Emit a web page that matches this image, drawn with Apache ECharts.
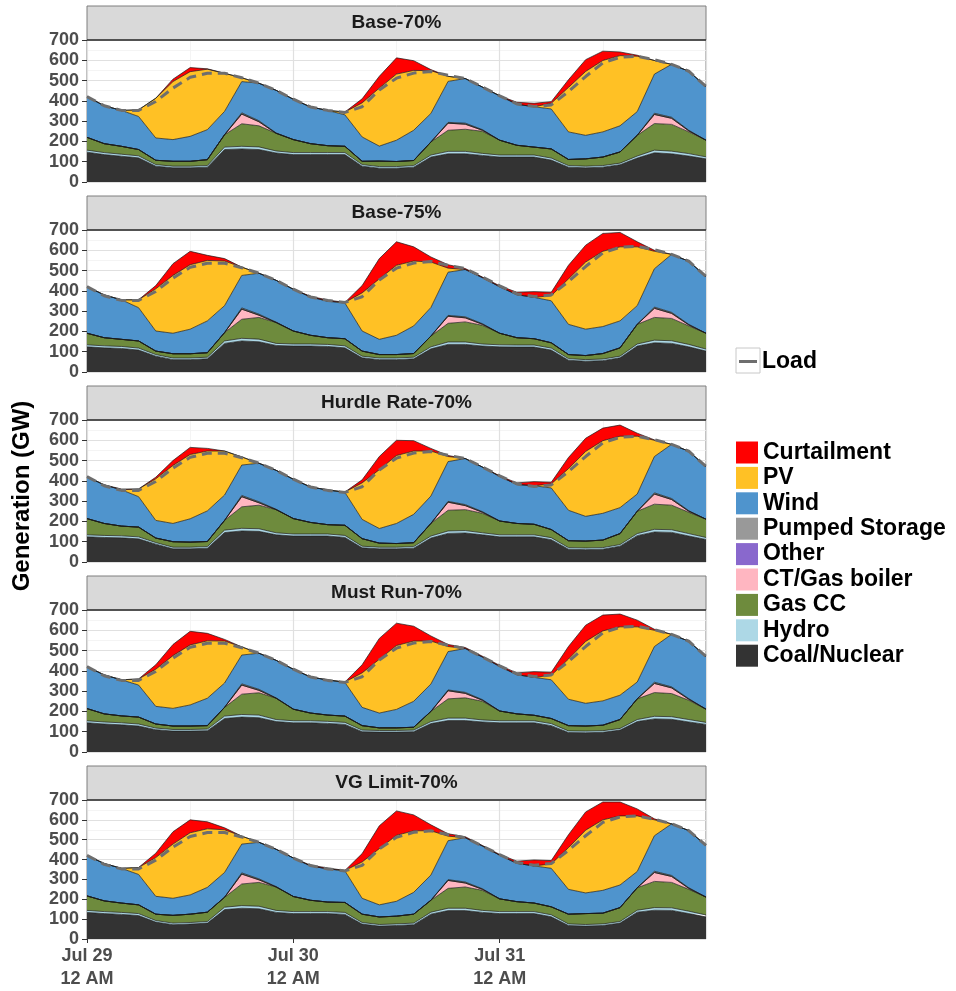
<!DOCTYPE html>
<html><head><meta charset="utf-8">
<script src="https://cdn.jsdelivr.net/npm/echarts@6.0.0/dist/echarts.min.js"></script>
<style>html,body{margin:0;padding:0;background:#fff}#c{width:956px;height:991px}</style>
</head><body><div id="c"></div>
<script>
const hours = [0,2,4,6,8,10,12,14,16,18,20,22,24,26,28,30,32,34,36,38,40,42,44,46,48,50,52,54,56,58,60,62,64,66,68,70,72];
const xTickLabels = {0: 'Jul 29\n12 AM', 24: 'Jul 30\n12 AM', 48: 'Jul 31\n12 AM'};
const panelNames = ['Base-70%', 'Base-75%', 'Hurdle Rate-70%', 'Must Run-70%', 'VG Limit-70%'];

const load = [421,376,353,353,397,463,516,536,536,514,487,452,408,370,353,343,371,454,512,537,545,526,510,468,425,385,372,380,446,520,587,615,620,603,580,546,471];
const hydro = [10,10,10,10,8,8,8,8,12,13,13,10,10,10,10,10,8,8,8,8,10,12,12,10,10,10,10,10,8,8,8,8,10,13,13,12,10];
const pumpedStorage = [0,0,0,0,0,0,0,0,0,6,5,2,0,0,0,0,0,0,0,0,0,4,5,3,0,0,0,0,0,0,0,0,0,6,5,3,0];
const other = [0,0,0,0,0,0,0,0,0,0,0,0,0,0,0,0,0,0,0,0,0,0,0,0,0,0,0,0,0,0,0,0,0,0,0,0,0];

const coal_base70 = [147,135,127,119,78,70,70,73,160,163,160,143,135,135,135,135,78,68,68,73,123,139,139,131,123,123,123,108,73,70,73,85,118,144,139,128,114];
const gas_base70 = [63,44,39,31,21,24,24,29,61,111,104,87,64,44,34,31,16,27,25,25,64,104,109,109,73,48,39,45,30,36,42,55,102,131,132,107,82];
const ct_base70 = [0,0,0,0,0,0,0,0,0,48,20,0,0,0,0,0,0,0,0,0,0,35,25,5,0,0,0,0,0,0,0,0,0,45,30,5,0];
const wind_base70 = [201,187,177,163,110,107,123,148,115,154,185,210,199,181,174,155,120,74,105,149,141,202,220,210,219,202,199,197,136,116,124,129,117,193,261,291,265];
const pv_base70 = [0,0,0,33,196,286,319,298,188,19,0,0,0,0,0,14,168,286,326,295,211,25,0,0,0,0,0,28,219,315,352,346,273,67,0,0,0];
const curt_base70 = [0,0,0,0,0,12,20,2,0,0,0,0,0,0,0,0,20,58,80,48,5,0,0,0,0,10,17,8,38,58,46,18,5,0,0,0,0];

const coal_base75 = [124,119,116,108,78,61,61,65,141,153,149,131,128,128,126,119,70,61,61,65,114,136,136,128,124,123,123,108,58,53,56,70,128,144,141,124,103];
const gas_base75 = [57,40,35,35,17,21,21,22,41,94,107,103,64,43,33,35,25,17,17,18,53,92,99,92,57,36,31,26,20,20,27,41,97,112,110,91,78];
const ct_base75 = [0,0,0,0,0,0,0,0,0,50,11,0,0,0,0,0,0,0,0,0,0,35,20,5,0,0,0,0,0,0,0,0,0,45,25,5,0];
const wind_base75 = [230,211,195,164,99,101,121,157,133,160,202,206,206,189,180,176,99,75,95,136,141,213,233,227,229,212,204,207,149,130,133,133,92,189,286,311,280];
const pv_base75 = [0,0,0,39,208,285,318,298,220,41,0,0,0,0,0,3,188,298,345,320,224,20,0,0,0,0,0,25,224,331,371,365,290,86,0,0,0];
const curt_base75 = [0,0,0,0,16,58,66,25,12,0,0,0,0,3,6,0,36,100,116,70,25,17,5,3,5,12,28,17,67,83,88,71,25,5,0,0,0];

const coal_hurdle = [124,121,119,114,88,65,65,68,145,153,151,134,128,128,128,121,70,65,65,68,118,141,143,134,124,124,124,110,63,61,63,78,130,148,146,128,111];
const gas_hurdle = [80,59,48,48,22,27,25,25,48,106,116,114,76,57,46,50,37,20,18,19,62,102,103,96,68,56,52,40,34,34,37,54,110,124,121,105,90];
const ct_hurdle = [0,0,0,0,0,0,0,0,0,50,12,0,0,0,0,0,0,0,0,0,0,40,20,5,0,0,0,0,0,0,0,0,0,50,28,5,0];
const wind_hurdle = [207,190,179,150,87,90,115,151,125,150,190,192,194,175,171,162,95,72,99,140,135,196,227,220,220,192,190,205,150,122,132,128,85,179,267,293,260];
const pv_hurdle = [0,0,0,38,205,286,317,295,217,40,0,0,0,0,0,2,180,290,335,312,222,25,0,0,0,0,0,20,205,320,358,352,285,80,0,0,0];
const curt_hurdle = [0,0,4,0,8,24,35,13,0,0,0,0,0,0,0,0,15,65,75,51,13,5,0,0,3,8,20,8,55,65,62,55,15,2,0,0,0];

const coal_mustrun = [144,138,134,128,110,103,103,105,165,172,169,150,144,144,141,136,100,98,98,100,140,155,155,148,144,144,144,130,96,95,97,108,150,163,161,148,136];
const gas_mustrun = [60,40,34,34,20,17,17,17,43,100,110,105,57,38,31,31,22,13,13,14,50,95,100,92,48,34,27,25,26,25,27,44,102,117,114,95,65];
const ct_mustrun = [0,0,0,0,0,0,0,0,0,45,12,0,0,0,0,0,0,0,0,0,0,40,22,5,0,0,0,0,0,0,0,0,0,45,28,5,0];
const wind_mustrun = [207,192,178,158,87,87,104,135,120,142,178,185,197,178,173,166,90,73,91,128,135,189,216,210,220,193,187,191,130,112,120,120,83,176,259,283,260];
const pv_mustrun = [0,0,0,30,183,260,296,283,207,40,0,0,0,0,0,2,170,265,315,297,212,25,0,0,0,0,0,22,198,305,345,337,272,80,0,0,0];
const curt_mustrun = [0,0,0,0,22,55,67,37,8,0,0,0,0,0,0,0,40,103,110,73,25,10,5,4,5,9,28,15,62,80,78,63,33,5,0,0,0];

const coal_vglimit = [134,128,124,118,85,72,75,80,148,155,152,134,128,128,128,124,75,65,68,72,125,143,143,134,128,128,128,112,68,65,68,80,135,145,144,128,111];
const gas_vglimit = [73,54,47,44,32,39,42,47,50,109,120,118,76,57,48,50,42,38,39,45,60,100,107,101,64,50,43,40,49,55,54,70,113,132,128,110,90];
const ct_vglimit = [0,0,0,0,0,0,0,0,0,50,13,0,0,0,0,0,0,0,0,0,0,40,20,5,0,0,0,0,0,0,0,0,0,45,30,5,0];
const wind_vglimit = [204,188,175,153,90,86,97,125,125,145,184,188,194,173,167,159,80,61,75,110,127,196,223,215,220,193,187,194,125,104,115,114,82,179,260,288,260];
const pv_vglimit = [0,0,0,35,195,273,313,295,215,40,0,0,0,0,0,2,183,283,332,310,223,23,0,0,0,0,0,22,210,316,355,348,280,80,0,0,0];
const curt_vglimit = [0,0,0,0,22,62,65,35,10,0,0,0,0,4,5,0,42,115,123,80,30,12,5,3,4,11,30,17,65,92,90,70,35,5,0,0,0];

const panelData = [
  [coal_base70, hydro, gas_base70, ct_base70, other, pumpedStorage, wind_base70, pv_base70, curt_base70],
  [coal_base75, hydro, gas_base75, ct_base75, other, pumpedStorage, wind_base75, pv_base75, curt_base75],
  [coal_hurdle, hydro, gas_hurdle, ct_hurdle, other, pumpedStorage, wind_hurdle, pv_hurdle, curt_hurdle],
  [coal_mustrun, hydro, gas_mustrun, ct_mustrun, other, pumpedStorage, wind_mustrun, pv_mustrun, curt_mustrun],
  [coal_vglimit, hydro, gas_vglimit, ct_vglimit, other, pumpedStorage, wind_vglimit, pv_vglimit, curt_vglimit]
];
const stackNames = ['Coal/Nuclear', 'Hydro', 'Gas CC', 'CT/Gas boiler', 'Other', 'Pumped Storage', 'Wind', 'PV', 'Curtailment'];
const stackColors = ['#333333', '#ADD8E6', '#6E8B3D', '#FFB6C1', '#8968CD', '#999999', '#4F94CD', '#FFC125', '#FF0000'];

const FONT = '"Liberation Sans", Arial, sans-serif';
const L = 87, W = 619, H = 142;
const tops = [40, 230, 420, 610, 800];
const hourCats = hours.map(String);

const grid = [], xAxis = [], yAxis = [], series = [], graphic = [];
tops.forEach((t, k) => {
  grid.push({left: L, top: t, width: W, height: H, show: true, backgroundColor: '#fff', borderColor: '#7F7F7F', borderWidth: 1});
  const last = k === tops.length - 1;
  xAxis.push({
    gridIndex: k, type: 'category', data: hourCats, boundaryGap: false,
    axisLine: {show: false},
    axisTick: {show: last, length: 4, interval: (i, v) => xTickLabels[+v] !== undefined, lineStyle: {color: '#333'}},
    axisLabel: {show: last, interval: (i, v) => xTickLabels[+v] !== undefined, formatter: v => xTickLabels[+v] || '', color: '#4D4D4D', fontWeight: 'bold', fontSize: 18, lineHeight: 23, margin: 6, fontFamily: FONT},
    splitLine: {show: false}
  });
  xAxis.push({
    gridIndex: k, type: 'value', min: 0, max: 72, interval: 24,
    axisLine: {show: false}, axisTick: {show: false}, axisLabel: {show: false},
    splitLine: {show: true, lineStyle: {color: '#E0E0E0', width: 1.2}},
    minorTick: {show: false, splitNumber: 2},
    minorSplitLine: {show: true, lineStyle: {color: '#F1F1F1', width: 0.8}}
  });
  yAxis.push({
    gridIndex: k, type: 'value', min: 0, max: 700, interval: 100,
    axisLine: {show: false},
    axisTick: {show: true, length: 5, lineStyle: {color: '#333'}},
    axisLabel: {color: '#4D4D4D', fontWeight: 'bold', fontSize: 18, margin: 8, fontFamily: FONT},
    splitLine: {show: true, lineStyle: {color: '#E0E0E0', width: 1.2}},
    minorTick: {show: false, splitNumber: 2},
    minorSplitLine: {show: true, lineStyle: {color: '#F1F1F1', width: 0.8}}
  });
  panelData[k].forEach((arr, s) => {
    series.push({
      name: stackNames[s], type: 'line', xAxisIndex: 2 * k, yAxisIndex: k, stack: 'p' + k,
      data: arr,
      symbol: 'none', showSymbol: false, smooth: false,
      lineStyle: {color: '#1A1A1A', width: 0.7},
      itemStyle: {color: stackColors[s]},
      areaStyle: {color: stackColors[s], opacity: 1},
      emphasis: {disabled: true}, z: 2
    });
  });
  series.push({
    name: 'Load', type: 'line', xAxisIndex: 2 * k, yAxisIndex: k,
    data: load,
    symbol: 'none', showSymbol: false,
    lineStyle: {color: '#6E6E6E', width: 3, type: [10, 6]},
    itemStyle: {color: '#6E6E6E'},
    emphasis: {disabled: true}, z: 5
  });
  graphic.push({type: 'rect', shape: {x: L, y: t - 34, width: W, height: 34}, style: {fill: '#D9D9D9', stroke: '#7F7F7F', lineWidth: 1}, z: 1});
  graphic.push({type: 'line', shape: {x1: L, y1: t, x2: L + W, y2: t}, style: {stroke: '#333', lineWidth: 1.5}, z: 10});
  graphic.push({type: 'text', x: L + W / 2, y: t - 17, style: {text: panelNames[k], font: 'bold 19px ' + FONT, fill: '#1A1A1A', textAlign: 'center', textVerticalAlign: 'middle'}, z: 10});
});
graphic.push({type: 'rect', shape: {x: 736, y: 348, width: 24, height: 25}, style: {fill: '#fff', stroke: '#C8C8C8', lineWidth: 1}, z: 1});
graphic.push({type: 'text', x: 22, y: 496, rotation: Math.PI / 2, style: {text: 'Generation (GW)', font: 'bold 24px ' + FONT, fill: '#000', textAlign: 'center', textVerticalAlign: 'middle'}, z: 10});

const legendOrder = stackNames.slice().reverse();
const legendText = {fontSize: 23, fontWeight: 'bold', color: '#000', fontFamily: FONT, lineHeight: 22};
const option = {
  animation: false,
  backgroundColor: '#fff',
  grid, xAxis, yAxis, series, graphic,
  legend: [
    {data: [{name: 'Load', icon: 'rect', itemStyle: {color: '#6E6E6E', borderWidth: 0}}], left: 739, top: 350, padding: 0, orient: 'vertical', itemWidth: 18, itemHeight: 3, selectedMode: false, textStyle: legendText},
    {data: legendOrder.map(n => ({name: n, icon: 'rect', itemStyle: {color: stackColors[stackNames.indexOf(n)], borderWidth: 0}})), left: 736, top: 441, padding: 0, orient: 'vertical', itemWidth: 22, itemHeight: 22, itemGap: 2.4, selectedMode: false, textStyle: legendText}
  ]
};
const chart = echarts.init(document.getElementById('c'));
chart.setOption(option);
</script></body></html>
